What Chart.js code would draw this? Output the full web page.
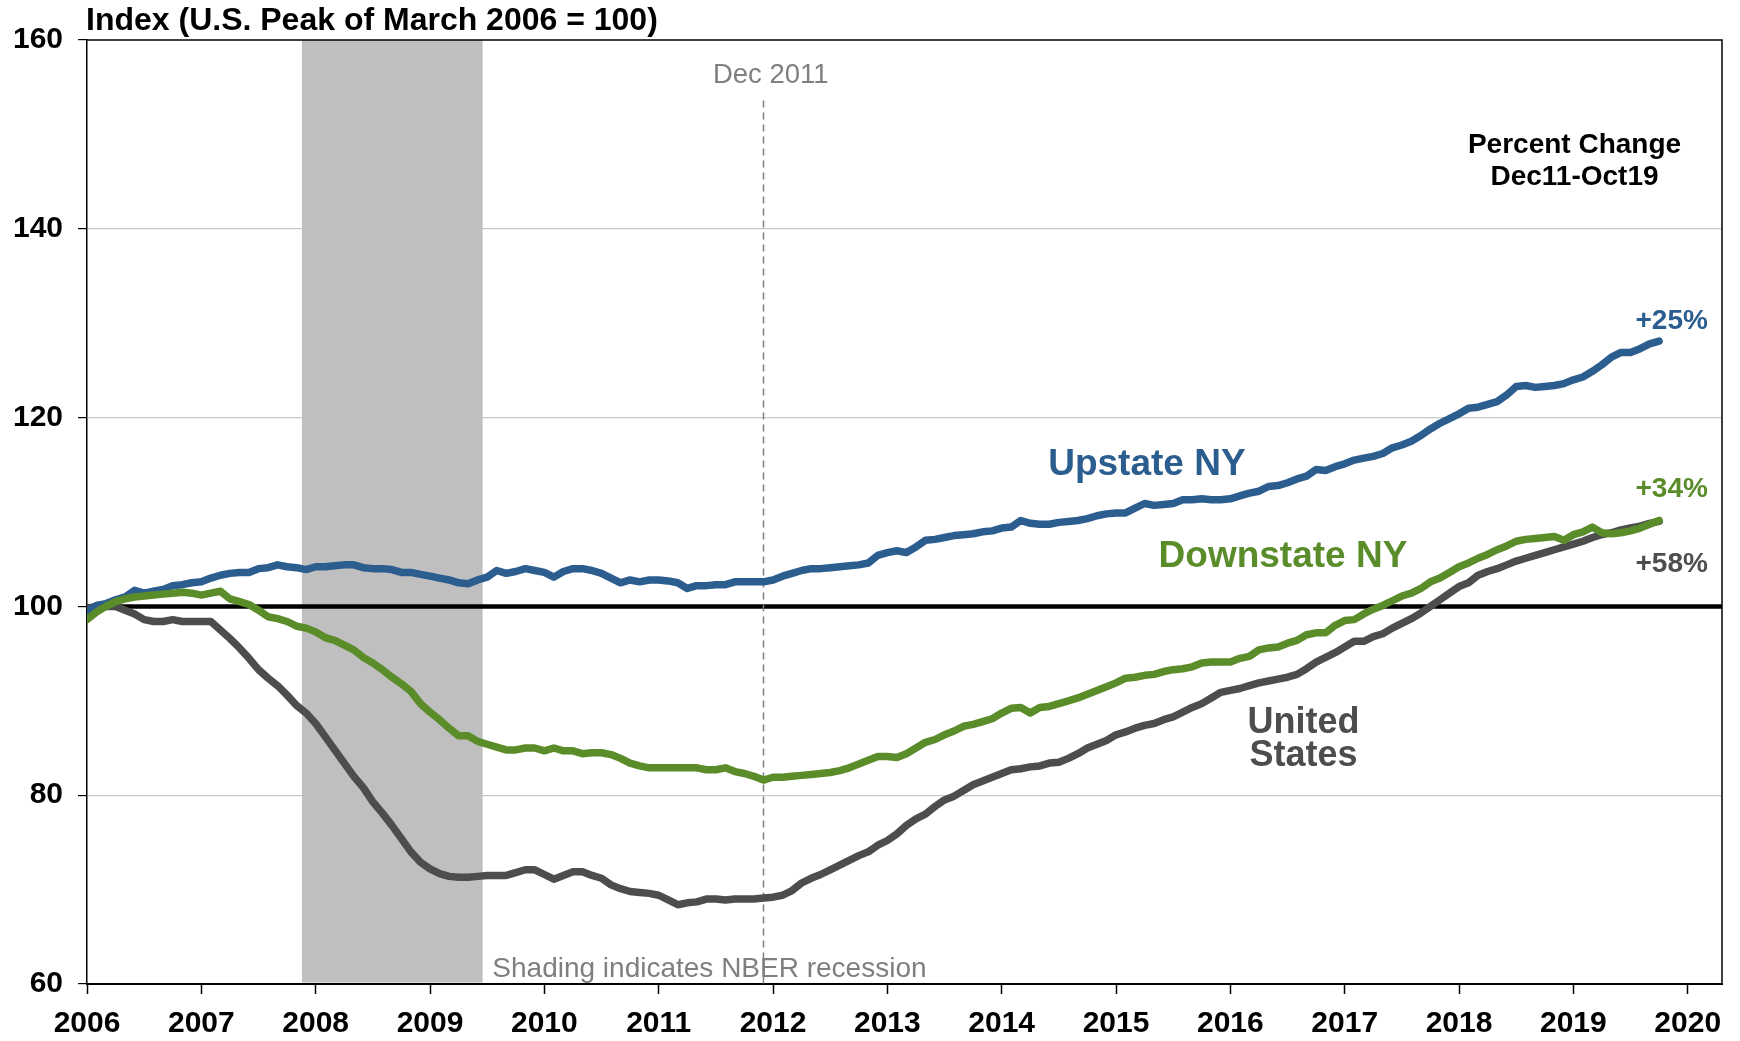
<!DOCTYPE html>
<html>
<head>
<meta charset="utf-8">
<script src="https://cdn.jsdelivr.net/npm/chart.js@4.4.1/dist/chart.umd.min.js"></script>
<style>
  html, body { margin: 0; padding: 0; background: #fff; }
  canvas { display: block; }
</style>
</head>
<body>
<canvas id="chart" width="1740" height="1041"></canvas>
<script>
'use strict';

// monthly index values, Jan 2006 .. Oct 2019 (one row per year)
const firstYear = 2006;
const yearTicks = [2006, 2007, 2008, 2009, 2010, 2011, 2012, 2013, 2014, 2015, 2016, 2017, 2018, 2019, 2020];

const upstate = [
  99.5, 100.1, 100.3, 100.7, 101.0, 101.7, 101.4, 101.6, 101.8, 102.2, 102.3, 102.5,
  102.6, 103.0, 103.3, 103.5, 103.6, 103.6, 104.0, 104.1, 104.4, 104.2, 104.1, 103.9,
  104.2, 104.2, 104.3, 104.4, 104.4, 104.1, 104.0, 104.0, 103.9, 103.6, 103.6, 103.4,
  103.2, 103.0, 102.8, 102.5, 102.4, 102.8, 103.1, 103.8, 103.5, 103.7, 104.0, 103.8,
  103.6, 103.1, 103.7, 104.0, 104.0, 103.8, 103.5, 103.0, 102.5, 102.8, 102.6, 102.8,
  102.8, 102.7, 102.5, 101.9, 102.2, 102.2, 102.3, 102.3, 102.6, 102.6, 102.6, 102.6,
  102.8, 103.2, 103.5, 103.8, 104.0, 104.0, 104.1, 104.2, 104.3, 104.4, 104.6, 105.4,
  105.7, 105.9, 105.7, 106.3, 107.0, 107.1, 107.3, 107.5, 107.6, 107.7, 107.9, 108.0,
  108.3, 108.4, 109.1, 108.8, 108.7, 108.7, 108.9, 109.0, 109.1, 109.3, 109.6, 109.8,
  109.9, 109.9, 110.4, 110.9, 110.7, 110.8, 110.9, 111.3, 111.3, 111.4, 111.3, 111.3,
  111.4, 111.7, 112.0, 112.2, 112.7, 112.8, 113.1, 113.5, 113.8, 114.5, 114.4, 114.8,
  115.1, 115.5, 115.7, 115.9, 116.2, 116.8, 117.1, 117.5, 118.1, 118.8, 119.4, 119.9,
  120.4, 121.0, 121.1, 121.4, 121.7, 122.4, 123.3, 123.4, 123.2, 123.3, 123.4, 123.6,
  124.0, 124.3, 124.9, 125.6, 126.4, 126.9, 126.9, 127.3, 127.8, 128.1
];

const downstate = [
  98.6, 99.4, 100.0, 100.5, 100.8, 101.0, 101.1, 101.2, 101.3, 101.4, 101.5, 101.4,
  101.2, 101.4, 101.6, 100.8, 100.5, 100.2, 99.6, 98.9, 98.7, 98.4, 97.9, 97.7,
  97.3, 96.7, 96.4, 95.9, 95.4, 94.6, 94.0, 93.3, 92.5, 91.8, 91.0, 89.7,
  88.8, 88.0, 87.1, 86.3, 86.3, 85.7, 85.4, 85.1, 84.8, 84.8, 85.0, 85.0,
  84.7, 85.0, 84.7, 84.7, 84.4, 84.5, 84.5, 84.3, 83.9, 83.4, 83.1, 82.9,
  82.9, 82.9, 82.9, 82.9, 82.9, 82.7, 82.7, 82.9, 82.5, 82.3, 82.0, 81.6,
  81.9, 81.9, 82.0, 82.1, 82.2, 82.3, 82.4, 82.6, 82.9, 83.3, 83.7, 84.1,
  84.1, 84.0, 84.4, 85.0, 85.6, 85.9, 86.4, 86.8, 87.3, 87.5, 87.8, 88.1,
  88.7, 89.2, 89.3, 88.7, 89.3, 89.4, 89.7, 90.0, 90.3, 90.7, 91.1, 91.5,
  91.9, 92.4, 92.5, 92.7, 92.8, 93.1, 93.3, 93.4, 93.6, 94.0, 94.1, 94.1,
  94.1, 94.5, 94.7, 95.4, 95.6, 95.7, 96.1, 96.4, 97.0, 97.2, 97.2, 98.0,
  98.5, 98.6, 99.2, 99.7, 100.1, 100.6, 101.1, 101.4, 101.9, 102.6, 103.0, 103.6,
  104.2, 104.6, 105.1, 105.5, 106.0, 106.4, 106.9, 107.1, 107.2, 107.3, 107.4, 107.0,
  107.6, 107.9, 108.4, 107.8, 107.7, 107.8, 108.0, 108.3, 108.7, 109.1
];

const unitedStates = [
  99.8, 100.0, 100.0, 100.0, 99.6, 99.2, 98.6, 98.4, 98.4, 98.6, 98.4, 98.4,
  98.4, 98.4, 97.5, 96.6, 95.6, 94.5, 93.3, 92.4, 91.6, 90.6, 89.5, 88.7,
  87.6, 86.2, 84.8, 83.4, 82.0, 80.8, 79.3, 78.1, 76.8, 75.4, 74.0, 72.9,
  72.2, 71.7, 71.4, 71.3, 71.3, 71.4, 71.5, 71.5, 71.5, 71.8, 72.1, 72.1,
  71.6, 71.1, 71.5, 71.9, 71.9, 71.5, 71.2, 70.5, 70.1, 69.8, 69.7, 69.6,
  69.4, 68.9, 68.4, 68.6, 68.7, 69.0, 69.0, 68.9, 69.0, 69.0, 69.0, 69.1,
  69.2, 69.4, 69.9, 70.7, 71.2, 71.6, 72.1, 72.6, 73.1, 73.6, 74.0, 74.7,
  75.2, 75.9, 76.8, 77.5, 78.0, 78.8, 79.5, 79.9, 80.5, 81.1, 81.5, 81.9,
  82.3, 82.7, 82.8, 83.0, 83.1, 83.4, 83.5, 83.9, 84.4, 85.0, 85.4, 85.8,
  86.4, 86.7, 87.1, 87.4, 87.6, 88.0, 88.3, 88.8, 89.3, 89.7, 90.3, 90.9,
  91.1, 91.3, 91.6, 91.9, 92.1, 92.3, 92.5, 92.8, 93.4, 94.1, 94.6, 95.1,
  95.7, 96.3, 96.3, 96.8, 97.1, 97.7, 98.2, 98.7, 99.3, 100.0, 100.7, 101.4,
  102.1, 102.5, 103.3, 103.7, 104.0, 104.4, 104.8, 105.1, 105.4, 105.7, 106.0, 106.3,
  106.6, 106.9, 107.3, 107.6, 107.8, 108.1, 108.3, 108.5, 108.8, 109.0
];

const recession = [2007.88, 2009.46];   // NBER Dec 2007 - Jun 2009
const marker = 2011 + 11 / 12;          // Dec 2011
const baseline = 100;

const BLUE = '#2c5d8f';
const GREEN = '#5b8c2a';
const GRAY = '#4d4d4d';
const NOTE = '#7f7f7f';
const FONT = '"Liberation Sans", Arial, sans-serif';

function toPoints(arr) {
  return arr.map((v, i) => ({ x: firstYear + i / 12, y: v }));
}

function line(label, color, data, order) {
  return {
    label,
    data: toPoints(data),
    borderColor: color,
    backgroundColor: color,
    borderWidth: 7.5,
    pointRadius: 0,
    tension: 0,
    borderJoinStyle: 'round',
    borderCapStyle: 'round',
    order,
  };
}

// text placed in data units (year, index)
const notes = [
  { text: 'Percent Change', x: 2019.01, y: 148.8, color: '#000', font: 'bold 28px' },
  { text: 'Dec11-Oct19', x: 2019.01, y: 145.5, color: '#000', font: 'bold 28px' },
  { text: '+25%', x: 2019.86, y: 130.2, color: BLUE, font: 'bold 28px' },
  { text: '+34%', x: 2019.86, y: 112.4, color: GREEN, font: 'bold 28px' },
  { text: '+58%', x: 2019.86, y: 104.5, color: GRAY, font: 'bold 28px' },
  { text: 'Upstate NY', x: 2015.27, y: 115.0, color: BLUE, font: 'bold 37px' },
  { text: 'Downstate NY', x: 2016.46, y: 105.3, color: GREEN, font: 'bold 37px' },
  { text: 'United', x: 2016.64, y: 87.6, color: GRAY, font: 'bold 36px' },
  { text: 'States', x: 2016.64, y: 84.1, color: GRAY, font: 'bold 36px' },
  { text: 'Dec 2011', x: 2011.98, y: 156.2, color: NOTE, font: '27.5px' },
  { text: 'Shading indicates NBER recession', x: 2009.545, y: 61.6, color: NOTE, font: '28px', align: 'left' },
];

const overlays = {
  id: 'overlays',
  beforeDatasetsDraw(chart) {
    const { ctx, chartArea: a, scales: { x, y } } = chart;
    ctx.save();
    const x0 = x.getPixelForValue(recession[0]);
    const x1 = x.getPixelForValue(recession[1]);
    ctx.fillStyle = '#bfbfbf';
    ctx.fillRect(x0, a.top, x1 - x0, a.bottom - a.top - 1.5);

    const yb = y.getPixelForValue(baseline);
    ctx.strokeStyle = '#000';
    ctx.lineWidth = 4.5;
    ctx.beginPath();
    ctx.moveTo(a.left, yb);
    ctx.lineTo(a.right, yb);
    ctx.stroke();

    const xm = x.getPixelForValue(marker);
    ctx.strokeStyle = NOTE;
    ctx.lineWidth = 1.5;
    ctx.setLineDash([7, 5]);
    ctx.beginPath();
    ctx.moveTo(xm, y.getPixelForValue(153.6));
    ctx.lineTo(xm, a.bottom);
    ctx.stroke();
    ctx.restore();
  },
  afterDatasetsDraw(chart) {
    const { ctx, chartArea: a, scales: { x, y } } = chart;
    ctx.save();
    // plot frame, top and right
    ctx.strokeStyle = '#000';
    ctx.lineWidth = 1.5;
    ctx.beginPath();
    ctx.moveTo(a.left, a.top);
    ctx.lineTo(a.right, a.top);
    ctx.lineTo(a.right, a.bottom);
    ctx.stroke();

    ctx.textBaseline = 'middle';
    ctx.fillStyle = '#000';
    ctx.textAlign = 'left';
    ctx.font = 'bold 32px ' + FONT;
    ctx.fillText('Index (U.S. Peak of March 2006 = 100)', a.left - 1, a.top - 19);

    notes.forEach(n => {
      ctx.font = n.font + ' ' + FONT;
      ctx.fillStyle = n.color;
      ctx.textAlign = n.align || 'center';
      ctx.fillText(n.text, x.getPixelForValue(n.x), y.getPixelForValue(n.y));
    });
    ctx.restore();
  },
};

new Chart(document.getElementById('chart'), {
  type: 'line',
  data: {
    datasets: [
      line('Downstate NY', GREEN, downstate, 0),
      line('Upstate NY', BLUE, upstate, 1),
      line('United States', GRAY, unitedStates, 2),
    ],
  },
  options: {
    responsive: false,
    animation: false,
    devicePixelRatio: 1,
    layout: { padding: { top: 40, right: 18, left: 0, bottom: 0 } },
    plugins: {
      legend: { display: false },
      tooltip: { enabled: false },
    },
    scales: {
      x: {
        type: 'linear',
        min: 2006,
        max: 2020.3,
        afterBuildTicks: s => { s.ticks = yearTicks.map(v => ({ value: v })); },
        afterFit: s => { s.height = 57; },
        ticks: {
          autoSkip: false,
          maxRotation: 0,
          padding: 12,
          color: '#000',
          font: { family: FONT, size: 30, weight: 'bold' },
          callback: v => String(v),
        },
        grid: { drawOnChartArea: false, drawTicks: true, tickLength: 10, tickColor: '#000', tickWidth: 1.5 },
        border: { color: '#000', width: 2 },
      },
      y: {
        min: 60,
        max: 160,
        afterFit: s => { s.width = 87; },
        ticks: {
          stepSize: 20,
          padding: 15,
          color: '#000',
          font: { family: FONT, size: 30, weight: 'bold' },
        },
        grid: {
          color: c => (c.tick && (c.tick.value === 100 || c.tick.value === 160 || c.tick.value === 60)) ? 'rgba(0,0,0,0)' : '#c8c8c8',
          lineWidth: 1.2,
          tickLength: 9,
          tickColor: '#000',
          tickWidth: 1.2,
        },
        border: { color: '#000', width: 1.5 },
      },
    },
  },
  plugins: [overlays],
});
</script>
</body>
</html>
